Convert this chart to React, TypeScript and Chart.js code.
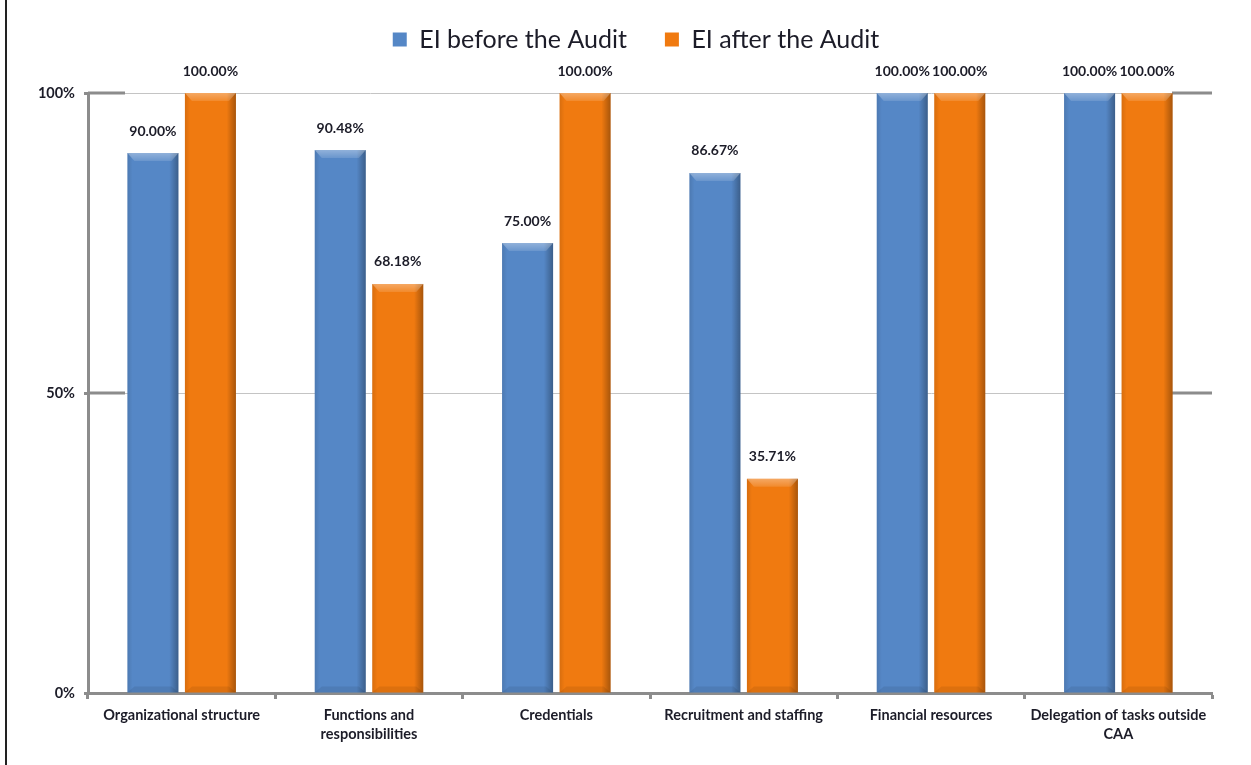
import React, { useEffect, useRef } from "react";
import { Chart, registerables } from "chart.js";

Chart.register(...registerables);

const categories: string[][] = [
  ["Organizational structure"],
  ["Functions and", "responsibilities"],
  ["Credentials"],
  ["Recruitment and staffing"],
  ["Financial resources"],
  ["Delegation of tasks outside", "CAA"],
];
const seriesNames = ["EI before the Audit", "EI after the Audit"];
const beforeAudit = [90.0, 90.48, 75.0, 86.67, 100.0, 100.0];
const afterAudit = [100.0, 68.18, 100.0, 35.71, 100.0, 100.0];
const yTickValues = [0, 50, 100];

const FONT = "Lato, 'Liberation Sans', sans-serif";
const BLUE = "#5587c6";
const ORANGE = "#f07a10";
const AXIS_GRAY = "#8c8c8c";
const TEXT = "#1c1c28";

const legendHeightPlugin = {
  id: "legendHeight",
  beforeLayout(chart: any) {
    const lg = chart.legend;
    if (lg && !lg._heightWrapped) {
      const f = lg.fit;
      lg.fit = function (this: any) {
        f.call(this);
        this.height = 104;
      };
      lg._heightWrapped = true;
    }
  },
  afterLayout(chart: any) {
    const lg = chart.legend;
    if (lg) {
      lg.left += 30;
      lg.right += 30;
    }
  },
};

const bevelPlugin = {
  id: "bevel",
  afterDatasetsDraw(chart: any) {
    const ctx = chart.ctx;
    chart.data.datasets.forEach((_ds: any, di: number) => {
      const meta = chart.getDatasetMeta(di);
      meta.data.forEach((bar: any) => {
        const { x, y, base, width } = bar.getProps(["x", "y", "base", "width"], true);
        const l = x - width / 2;
        const r = x + width / 2;
        const t = Math.min(y, base);
        const b = Math.max(y, base);
        ctx.save();
        const g = ctx.createLinearGradient(l, 0, r, 0);
        g.addColorStop(0, "rgba(0,0,0,0.10)");
        g.addColorStop(0.1, "rgba(0,0,0,0)");
        g.addColorStop(0.82, "rgba(0,0,0,0)");
        g.addColorStop(1, "rgba(0,0,0,0.30)");
        ctx.fillStyle = g;
        ctx.fillRect(l, t, r - l, b - t);
        // top bevel
        const tg = ctx.createLinearGradient(0, t, 0, t + 8);
        tg.addColorStop(0, "rgba(255,255,255,0.35)");
        tg.addColorStop(1, "rgba(255,255,255,0.12)");
        ctx.beginPath();
        ctx.moveTo(l, t);
        ctx.lineTo(r, t);
        ctx.lineTo(r - 7, t + 8);
        ctx.lineTo(l + 7, t + 8);
        ctx.closePath();
        ctx.fillStyle = tg;
        ctx.fill();
        // bottom bevel
        ctx.beginPath();
        ctx.moveTo(l, b);
        ctx.lineTo(r, b);
        ctx.lineTo(r - 7, b - 6);
        ctx.lineTo(l + 7, b - 6);
        ctx.closePath();
        ctx.fillStyle = "rgba(0,0,0,0.08)";
        ctx.fill();
        ctx.restore();
      });
    });
  },
};

const gridEndsPlugin = {
  id: "gridEnds",
  beforeDatasetsDraw(chart: any) {
    const ctx = chart.ctx;
    const area = chart.chartArea;
    const yScale = chart.scales.y;
    ctx.save();
    ctx.strokeStyle = AXIS_GRAY;
    ctx.lineWidth = 3;
    yTickValues.forEach((v) => {
      if (v === 0) return;
      const py = yScale.getPixelForValue(v);
      ctx.beginPath();
      ctx.moveTo(area.left, py);
      ctx.lineTo(area.left + 37, py);
      ctx.moveTo(area.right - 40, py);
      ctx.lineTo(area.right, py);
      ctx.stroke();
    });
    ctx.restore();
  },
};

const valueLabelPlugin = {
  id: "valueLabels",
  afterDatasetsDraw(chart: any) {
    const ctx = chart.ctx;
    ctx.save();
    ctx.font = `bold 14px ${FONT}`;
    ctx.fillStyle = TEXT;
    ctx.textAlign = "center";
    ctx.textBaseline = "middle";
    chart.data.datasets.forEach((ds: any, di: number) => {
      const meta = chart.getDatasetMeta(di);
      meta.data.forEach((bar: any, i: number) => {
        const v = ds.data[i] as number;
        ctx.fillText(v.toFixed(2) + "%", bar.x, bar.y - 22);
      });
    });
    ctx.restore();
  },
};

export default function App() {
  const canvasRef = useRef<HTMLCanvasElement | null>(null);

  useEffect(() => {
    if (!canvasRef.current) return;
    const chart = new Chart(canvasRef.current, {
      type: "bar",
      data: {
        labels: categories,
        datasets: [
          {
            label: seriesNames[0],
            data: beforeAudit,
            backgroundColor: BLUE,
            categoryPercentage: 0.614,
            barPercentage: 0.887,
          },
          {
            label: seriesNames[1],
            data: afterAudit,
            backgroundColor: ORANGE,
            categoryPercentage: 0.614,
            barPercentage: 0.887,
          },
        ],
      },
      options: {
        animation: false,
        responsive: true,
        maintainAspectRatio: false,
        layout: { padding: { top: -11, right: 39, left: 0, bottom: 0 } },
        plugins: {
          legend: {
            position: "top",
            labels: {
              boxWidth: 14,
              boxHeight: 14,
              padding: 38,
              color: TEXT,
              font: { family: FONT, size: 25 },
            },
          },
          tooltip: { enabled: false },
        },
        scales: {
          x: {
            offset: true,
            grid: {
              offset: true,
              drawOnChartArea: false,
              drawTicks: true,
              tickLength: 6,
              tickColor: AXIS_GRAY,
              tickWidth: 3,
            },
            border: { display: true, color: AXIS_GRAY, width: 3 },
            ticks: {
              color: TEXT,
              padding: 7,
              maxRotation: 0,
              autoSkip: false,
              font: { family: FONT, size: 14.5, weight: "bold", lineHeight: 1.3 },
            },
            afterFit(scale: any) {
              scale.height = 72;
            },
          },
          y: {
            min: 0,
            max: 100,
            afterBuildTicks(scale: any) {
              scale.ticks = yTickValues.map((v) => ({ value: v }));
            },
            grid: {
              color: "#c4c4c4",
              lineWidth: 1,
              tickLength: 4,
              tickColor: AXIS_GRAY,
              tickWidth: 3,
            },
            border: { display: true, color: AXIS_GRAY, width: 3 },
            ticks: {
              color: TEXT,
              padding: 9,
              font: { family: FONT, size: 14.5, weight: "bold" },
              callback: (v: any) => `${v}%`,
            },
            afterFit(scale: any) {
              scale.width = 88;
            },
          },
        },
      },
      plugins: [legendHeightPlugin, gridEndsPlugin, bevelPlugin, valueLabelPlugin],
    });
    return () => chart.destroy();
  }, []);

  return (
    <div style={{ position: "absolute", left: 0, top: 0, width: 1251, height: 765, background: "#fff" }}>
      <div style={{ position: "absolute", left: 5, top: 0, width: 2, height: 765, background: "#222" }} />
      <canvas ref={canvasRef} />
    </div>
  );
}
